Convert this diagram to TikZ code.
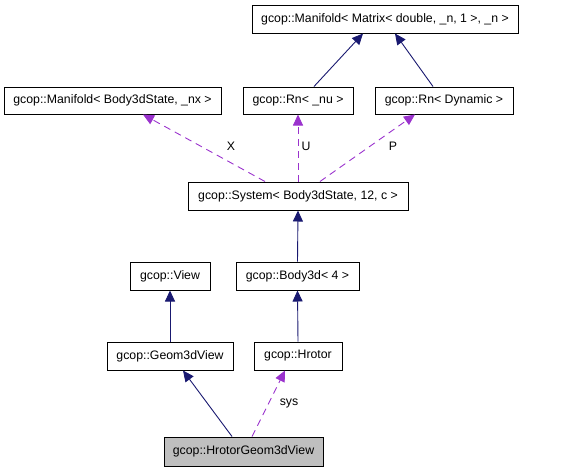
\documentclass[tikz,border=0pt]{standalone}
\usepackage{fontspec}
\setmainfont{Liberation Sans}
\usetikzlibrary{arrows.meta}
\definecolor{edgeblue}{HTML}{191970}
\definecolor{edgepurple}{HTML}{9A32CD}
\definecolor{boxgray}{HTML}{BFBFBF}
\begin{document}
\begin{tikzpicture}[x=1pt,y=-1pt,
  cls/.style={draw=black, line width=1pt, fill=white, inner sep=0pt, minimum height=28pt, font=\fontsize{12.3}{14}\selectfont},
  inh/.style={draw=edgeblue, line width=0.9pt, -{Triangle[length=11pt,width=10pt,fill=edgeblue]}},
  use/.style={draw=edgepurple, line width=0.9pt, dash pattern=on 7pt off 5pt, -{Triangle[length=11pt,width=10pt,fill=edgepurple]}},
  lbl/.style={font=\fontsize{12.3}{14}\selectfont, inner sep=0pt}]
\useasboundingbox (0,0) rectangle (568,472);
\node[cls, minimum width=266pt] (mm) at (385,19) {gcop::Manifold< Matrix< double, \_n, 1 >, \_n >};
\node[cls, minimum width=217pt, minimum height=27pt] (mb) at (112.5,100.5) {gcop::Manifold< Body3dState, \_nx >};
\node[cls, minimum width=110pt, minimum height=27pt] (rnu) at (298,100.5) {gcop::Rn< \_nu >};
\node[cls, minimum width=138pt, minimum height=27pt] (rdyn) at (444,100.5) {gcop::Rn< Dynamic >};
\node[cls, minimum width=220pt] (sys) at (298,196) {gcop::System< Body3dState, 12, c >};
\node[cls, minimum width=80pt] (view) at (170,276) {gcop::View};
\node[cls, minimum width=123pt] (body) at (297.5,276) {gcop::Body3d< 4 >};
\node[cls, minimum width=126pt] (geom) at (170,356) {gcop::Geom3dView};
\node[cls, minimum width=88pt] (hrotor) at (298,356) {gcop::Hrotor};
\node[cls, fill=boxgray, minimum width=159pt, minimum height=29pt] (hgv) at (243.5,451.5) {gcop::HrotorGeom3dView};

\draw[inh] ([xshift=16pt]rnu.north) -- ([xshift=-22pt]mm.south);
\draw[inh] ([xshift=-11pt]rdyn.north) -- ([xshift=10pt]mm.south);
\draw[use] ([xshift=-33pt]sys.north) -- ([xshift=30.5pt]mb.south);
\draw[use] (sys.north) -- (rnu.south);
\draw[use] ([xshift=22pt]sys.north) -- ([xshift=-29pt]rdyn.south);
\draw[inh] (body.north) -- (sys.south);
\draw[inh] (geom.north) -- (view.south);
\draw[inh] (hrotor.north) -- (body.south);
\draw[inh] ([xshift=-11.5pt]hgv.north) -- ([xshift=13pt]geom.south);
\draw[use] ([xshift=8.5pt]hgv.north) -- ([xshift=-13pt]hrotor.south);

\node[lbl] (lx) at (231,146) {X};
\node[lbl] (lu) at (306,146) {U};
\node[lbl] (lp) at (393,146) {P};
\node[lbl] (ls) at (289,403) {sys};
\end{tikzpicture}
\end{document}
